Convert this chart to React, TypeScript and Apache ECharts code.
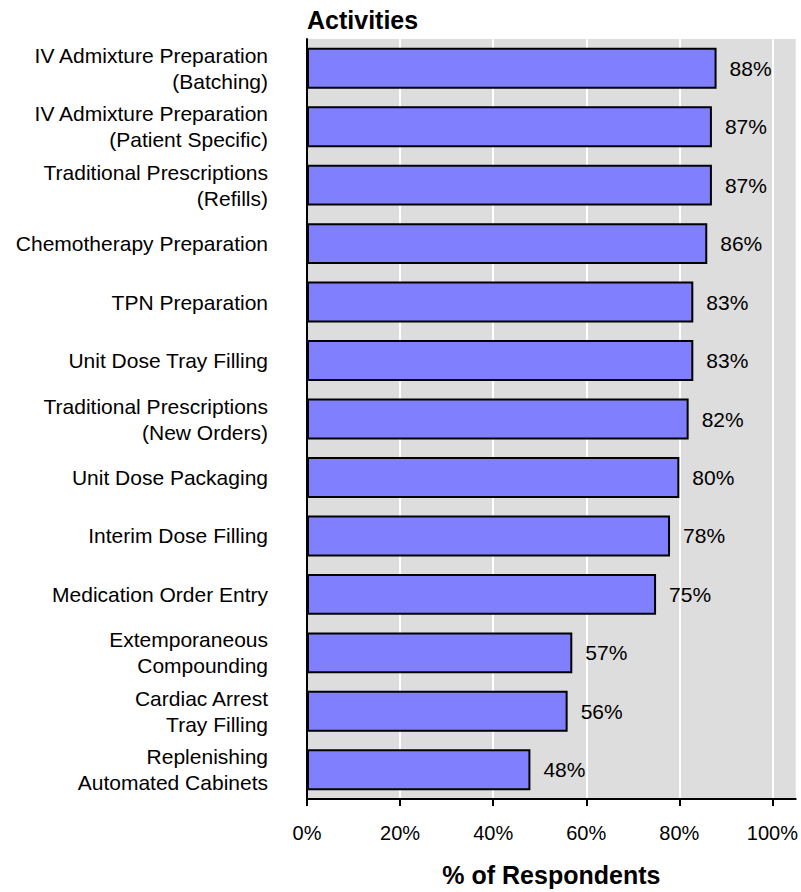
import React, { useEffect, useRef } from "react";
import * as echarts from "echarts";

const categories: string[] = [
  "IV Admixture Preparation\n(Batching)",
  "IV Admixture Preparation\n(Patient Specific)",
  "Traditional Prescriptions\n(Refills)",
  "Chemotherapy Preparation",
  "TPN Preparation",
  "Unit Dose Tray Filling",
  "Traditional Prescriptions\n(New Orders)",
  "Unit Dose Packaging",
  "Interim Dose Filling",
  "Medication Order Entry",
  "Extemporaneous\nCompounding",
  "Cardiac Arrest\nTray Filling",
  "Replenishing\nAutomated Cabinets",
];

const respondents: number[] = [88, 87, 87, 86, 83, 83, 82, 80, 78, 75, 57, 56, 48];

const xTicks: number[] = [0, 20, 40, 60, 80, 100];

const titleText = "Activities";
const xAxisTitle = "% of Respondents";

const FONT = "'Liberation Sans', Arial, Helvetica, sans-serif";

export default function App() {
  const ref = useRef<HTMLDivElement>(null);

  useEffect(() => {
    if (!ref.current) return;
    const chart = echarts.init(ref.current, undefined, { renderer: "svg" });
    chart.setOption({
      animation: false,
      backgroundColor: "#ffffff",
      textStyle: { fontFamily: FONT },
      title: {
        text: titleText,
        left: 307,
        top: 7,
        padding: 0,
        textStyle: { fontFamily: FONT, fontSize: 25, fontWeight: "bold", color: "#000" },
      },
      grid: {
        left: 307,
        right: 2,
        top: 39,
        bottom: 90,
        show: true,
        backgroundColor: "#dddddd",
        borderWidth: 0,
        containLabel: false,
      },
      xAxis: {
        type: "value",
        min: 0,
        max: 105,
        interval: 20,
        name: xAxisTitle,
        nameLocation: "middle",
        nameGap: 63,
        nameTextStyle: { fontFamily: FONT, fontSize: 25, fontWeight: "bold", color: "#000" },
        axisLine: { show: true, lineStyle: { color: "#000", width: 2 } },
        axisTick: { show: true, length: 7, lineStyle: { color: "#000", width: 2 }, customValues: xTicks },
        axisLabel: {
          customValues: xTicks,
          formatter: (v: number) => `${v}%`,
          fontFamily: FONT,
          fontSize: 20,
          color: "#000",
          margin: 24,
        },
        splitLine: { show: true, lineStyle: { color: "#ffffff", width: 2 } },
      },
      yAxis: {
        type: "category",
        data: categories,
        inverse: true,
        axisLine: { show: true, lineStyle: { color: "#000", width: 2 } },
        axisTick: { show: false },
        axisLabel: {
          fontFamily: FONT,
          fontSize: 21,
          lineHeight: 26,
          color: "#000",
          margin: 39,
          align: "right",
        },
        splitLine: { show: false },
      },
      series: [
        {
          type: "bar",
          data: respondents,
          barCategoryGap: "30%",
          itemStyle: { color: "#8080ff", borderColor: "#000", borderWidth: 2 },
          label: {
            show: true,
            position: "right",
            distance: 13,
            formatter: (p: any) => `${p.value}%`,
            fontFamily: FONT,
            fontSize: 21,
            color: "#000",
          },
        },
      ],
    });
    return () => chart.dispose();
  }, []);

  return (
    <div
      ref={ref}
      style={{ position: "fixed", left: 0, top: 0, width: 801, height: 892 }}
    />
  );
}
